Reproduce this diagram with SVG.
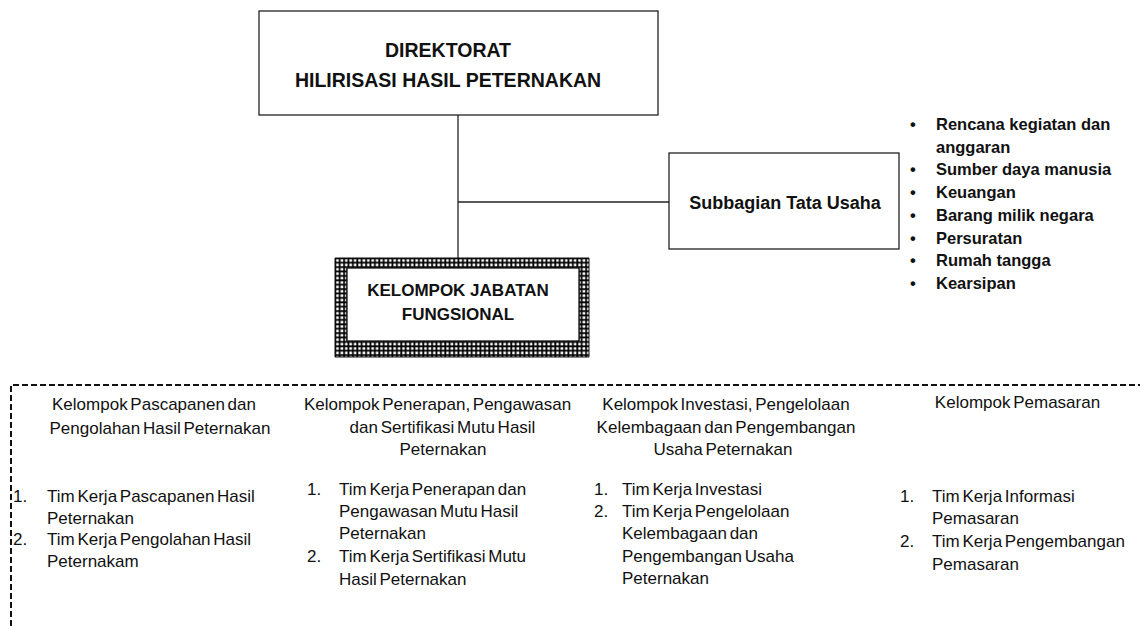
<svg xmlns="http://www.w3.org/2000/svg" width="1140" height="626" viewBox="0 0 1140 626">
  <defs>
    <pattern id="grid" x="335" y="258" width="4.4" height="4.4" patternUnits="userSpaceOnUse">
      <rect width="4.4" height="4.4" fill="#000"/>
      <rect x="1.2" y="1.2" width="2.6" height="2.6" fill="#fff"/>
    </pattern>
  </defs>
  <style>
    .box { fill: #fff; stroke: #222; stroke-width: 1.3; }
    .line { fill: none; stroke: #222; stroke-width: 1.3; }
    .dash { fill: none; stroke: #111; stroke-width: 2; stroke-dasharray: 6 3; }
    .tb { font-family: "Liberation Sans", Arial, sans-serif; font-weight: bold; fill: #111; }
    .t { font-family: "Liberation Sans", Arial, sans-serif; font-size: 17px; fill: #111; word-spacing: -2px; }
    .c { text-anchor: middle; }
  </style>
  <rect width="1140" height="626" fill="#fff"/>

  <g id="connectors">
    <path class="line" d="M458 115 V258"/>
    <path class="line" d="M458 202 H669"/>
    <path class="dash" d="M11 626 V385 H1140"/>
  </g>

  <g id="direktorat">
    <rect class="box" x="259" y="11" width="399" height="104"/>
    <text class="tb c" x="448" y="57" font-size="19.5">DIREKTORAT</text>
    <text class="tb c" x="448" y="87" font-size="19.5">HILIRISASI HASIL PETERNAKAN</text>
  </g>

  <g id="subbagian">
    <rect class="box" x="669" y="153" width="230" height="96"/>
    <text class="tb c" x="785" y="209" font-size="18">Subbagian Tata Usaha</text>
  </g>

  <g id="tugas-subbagian" class="tb" font-size="16.5">
    <text x="910" y="130">•</text><text x="936" y="130">Rencana kegiatan dan</text>
    <text x="936" y="152.7">anggaran</text>
    <text x="910" y="175.4">•</text><text x="936" y="175.4">Sumber daya manusia</text>
    <text x="910" y="198">•</text><text x="936" y="198">Keuangan</text>
    <text x="910" y="220.8">•</text><text x="936" y="220.8">Barang milik negara</text>
    <text x="910" y="243.5">•</text><text x="936" y="243.5">Persuratan</text>
    <text x="910" y="266">•</text><text x="936" y="266">Rumah tangga</text>
    <text x="910" y="289">•</text><text x="936" y="289">Kearsipan</text>
  </g>

  <g id="jabatan-fungsional">
    <path d="M335 258 H589 V357 H335 Z M347 268 V341 H579 V268 Z" fill="url(#grid)" fill-rule="evenodd" stroke="#111" stroke-width="1"/>
    <rect x="347" y="268" width="232" height="73" fill="#fff" stroke="#111" stroke-width="1.3"/>
    <text class="tb c" x="458" y="296" font-size="17">KELOMPOK JABATAN</text>
    <text class="tb c" x="458" y="320" font-size="17">FUNGSIONAL</text>
  </g>

  <g id="kelompok-pascapanen" class="t">
    <text class="c" x="154" y="410">Kelompok Pascapanen dan</text>
    <text class="c" x="160" y="434">Pengolahan Hasil Peternakan</text>
    <text x="13" y="502">1.</text><text x="47" y="502">Tim Kerja Pascapanen Hasil</text>
    <text x="47" y="523.5">Peternakan</text>
    <text x="13" y="545">2.</text><text x="47" y="545">Tim Kerja Pengolahan Hasil</text>
    <text x="47" y="567">Peternakam</text>
  </g>

  <g id="kelompok-penerapan" class="t">
    <text class="c" x="437.5" y="410">Kelompok Penerapan, Pengawasan</text>
    <text class="c" x="442.5" y="433">dan Sertifikasi Mutu Hasil</text>
    <text class="c" x="443" y="455">Peternakan</text>
    <text x="307" y="495">1.</text><text x="339" y="495">Tim Kerja Penerapan dan</text>
    <text x="339" y="517">Pengawasan Mutu Hasil</text>
    <text x="339" y="539">Peternakan</text>
    <text x="307" y="562">2.</text><text x="339" y="562">Tim Kerja Sertifikasi Mutu</text>
    <text x="339" y="585">Hasil Peternakan</text>
  </g>

  <g id="kelompok-investasi" class="t">
    <text class="c" x="726" y="410">Kelompok Investasi, Pengelolaan</text>
    <text class="c" x="726" y="433">Kelembagaan dan Pengembangan</text>
    <text class="c" x="723" y="455">Usaha Peternakan</text>
    <text x="594" y="495">1.</text><text x="622" y="495">Tim Kerja Investasi</text>
    <text x="594" y="517">2.</text><text x="622" y="517">Tim Kerja Pengelolaan</text>
    <text x="622" y="539">Kelembagaan dan</text>
    <text x="622" y="562">Pengembangan Usaha</text>
    <text x="622" y="584">Peternakan</text>
  </g>

  <g id="kelompok-pemasaran" class="t">
    <text class="c" x="1017.5" y="408">Kelompok Pemasaran</text>
    <text x="900" y="502">1.</text><text x="932" y="502">Tim Kerja Informasi</text>
    <text x="932" y="524">Pemasaran</text>
    <text x="900" y="547">2.</text><text x="932" y="547">Tim Kerja Pengembangan</text>
    <text x="932" y="570">Pemasaran</text>
  </g>
</svg>
